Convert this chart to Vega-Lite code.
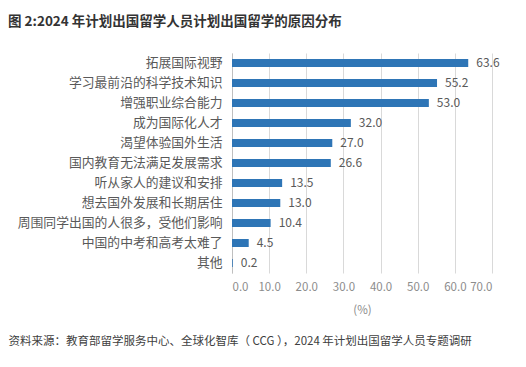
{
  "$schema": "https://vega.github.io/schema/vega-lite/v6.json",
  "width": 260,
  "height": 220,
  "autosize": {"type": "none"},
  "padding": {"left": 232, "top": 53, "right": 34, "bottom": 94},
  "background": "white",
  "title": {
    "text": "图 2:2024 年计划出国留学人员计划出国留学的原因分布",
    "anchor": "start",
    "frame": "group",
    "dx": -224,
    "offset": 11,
    "baseline": "bottom",
    "font": "Noto Sans CJK SC",
    "fontSize": 13.5,
    "fontWeight": "bold",
    "color": "#333333"
  },
  "data": {
    "values": [
      {"reason": "拓展国际视野", "pct": 63.6},
      {"reason": "学习最前沿的科学技术知识", "pct": 55.2},
      {"reason": "增强职业综合能力", "pct": 53.0},
      {"reason": "成为国际化人才", "pct": 32.0},
      {"reason": "渴望体验国外生活", "pct": 27.0},
      {"reason": "国内教育无法满足发展需求", "pct": 26.6},
      {"reason": "听从家人的建议和安排", "pct": 13.5},
      {"reason": "想去国外发展和长期居住", "pct": 13.0},
      {"reason": "周围同学出国的人很多，受他们影响", "pct": 10.4},
      {"reason": "中国的中考和高考太难了", "pct": 4.5},
      {"reason": "其他", "pct": 0.2}
    ]
  },
  "encoding": {
    "y": {
      "field": "reason",
      "type": "nominal",
      "sort": "-x",
      "axis": {
        "title": "资料来源：教育部留学服务中心、全球化智库（ CCG ），2024 年计划出国留学人员专题调研",
        "titleAngle": 0,
        "titleX": -224,
        "titleY": 288,
        "titleAlign": "left",
        "titleBaseline": "middle",
        "titleFont": "Noto Sans CJK SC",
        "titleFontSize": 11.5,
        "titleFontWeight": "normal",
        "titleColor": "#404040",
        "labelFont": "Noto Sans CJK SC",
        "labelFontSize": 12.8,
        "labelColor": "#595959",
        "labelPadding": 10,
        "labelLimit": 300,
        "ticks": false,
        "domainColor": "#bfbfbf",
        "grid": false
      }
    },
    "x": {
      "field": "pct",
      "type": "quantitative",
      "scale": {"domain": [0, 70], "nice": false},
      "axis": {
        "title": "(%)",
        "values": [0, 10, 20, 30, 40, 50, 60, 70],
        "format": ".1f",
        "labelFont": "Noto Sans CJK SC",
        "labelFontSize": 11.5,
        "labelColor": "#8c8c8c",
        "labelPadding": 8,
        "titleFont": "Noto Sans CJK SC",
        "titleFontSize": 11.5,
        "titleFontWeight": "normal",
        "titleColor": "#8c8c8c",
        "titlePadding": 12,
        "ticks": false,
        "domain": false,
        "grid": true,
        "gridColor": "#d9d9d9"
      }
    }
  },
  "layer": [
    {"mark": {"type": "bar", "color": "#2e75b6", "size": 8}},
    {
      "mark": {"type": "text", "align": "left", "baseline": "middle", "dx": 8, "font": "Noto Sans CJK SC", "fontSize": 12, "color": "#595959"},
      "encoding": {"text": {"field": "pct", "type": "quantitative", "format": ".1f"}}
    }
  ],
  "config": {"view": {"stroke": null}}
}
